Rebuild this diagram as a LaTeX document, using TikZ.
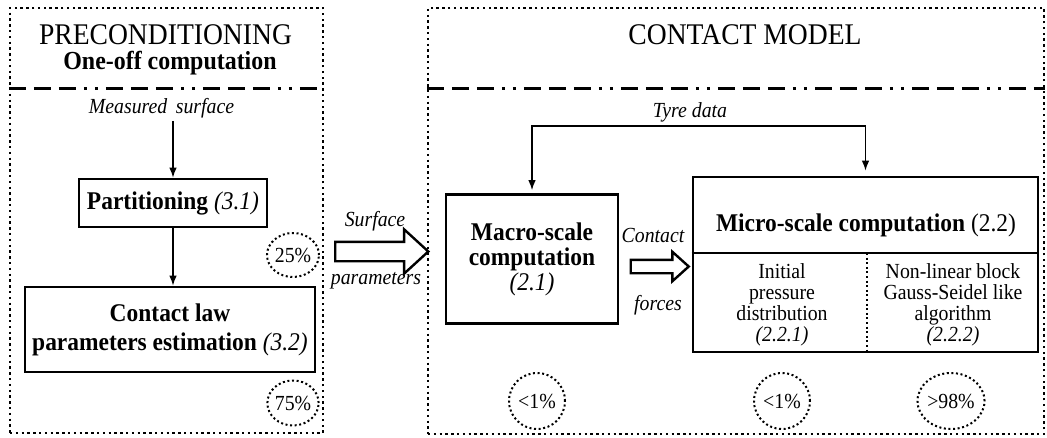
\documentclass[tikz,border=0pt]{standalone}
\usepackage{fontspec}
\setmainfont{Liberation Serif}[FakeStretch=0.92]
\usepackage{tikz}
\usetikzlibrary{shapes,arrows,positioning}
\usetikzlibrary{shapes.arrows,arrows.meta}

\tikzset{
  >={Latex[length=10pt,width=7.5pt]},
  frame/.style={shape=rectangle, draw=black, line width=2.4pt, dash pattern=on 2.4pt off 3.4pt},
  sepline/.style={line width=3pt, dash pattern=on 17pt off 8pt on 17pt off 8pt on 17pt off 8pt on 3pt off 8pt on 3pt off 8pt},
  stage/.style={shape=rectangle, draw=black, line width=2.6pt, align=center, font=\fontsize{25.5}{29}\selectfont\bfseries},
  share/.style={shape=ellipse, draw=black, line width=2pt, dash pattern=on 2pt off 2.6pt, inner sep=0pt, font=\fontsize{21.5}{21.5}\selectfont},
  tag/.style={anchor=base, font=\fontsize{21.5}{23}\selectfont\itshape},
  cell/.style={align=center, inner sep=0pt, font=\fontsize{21.5}{21}\selectfont},
  flow/.style={->, line width=1.4pt},
  fatarrow/.style={shape=single arrow, draw=black, line width=2.4pt, inner xsep=0pt, single arrow head indent=0pt}
}
\newcommand{\secref}[1]{{\normalfont\itshape #1}}

\begin{document}
\begin{tikzpicture}[x=1pt,y=-1pt]
\useasboundingbox (0,0) rectangle (1047,437);

% Preconditioning (one-off)
\node [frame, minimum width=313pt, minimum height=425pt] at (166.5,220.5) (pre_frame) {};
\coordinate (sep_y) at (0,88);
\draw [sepline] (pre_frame.west |- sep_y) -- (pre_frame.east |- sep_y);
\node [anchor=base, inner sep=0pt, font=\fontsize{30}{32}\selectfont] at (165.5,44) (pre_title) {PRECONDITIONING};
\node [anchor=base, inner sep=0pt, font=\fontsize{26}{28}\selectfont\bfseries] at (170,69) (pre_sub) {One-off computation};

\node [tag, inner sep=3pt] at (161.5,113) (meas) {Measured\, surface};
\node [stage, minimum width=188pt, minimum height=48pt] at (173,203) (part) {Partitioning \secref{(3.1)}};
\node [stage, minimum width=290pt, minimum height=85pt] at (170,329.5) (law) {Contact law\\parameters estimation \secref{(3.2)}};

\draw [flow] (meas.south -| part.north) -- (part.north);
\draw [flow] (part.south) -- (part.south |- law.north);

\node [share, minimum width=52pt, minimum height=44pt] at (293,255) (p_part) {25\%};
\node [share, minimum width=50pt, minimum height=45pt] at (293,403) (p_law) {75\%};

% Surface parameters handed over
\node [fatarrow, inner ysep=8.5pt, single arrow head extend=12.5pt, single arrow tip angle=85, minimum height=93pt] at (376.5,251.5) (surf_arrow) {};
\node [tag] at (375,226) (surf_top) {Surface};
\node [tag] at (376,284) (surf_bot) {parameters};

% Contact model
\node [frame, minimum width=616pt, minimum height=426pt] at (736,221) (model_frame) {};
\draw [sepline] (model_frame.west |- sep_y) -- (model_frame.east |- sep_y);
\node [anchor=base, font=\fontsize{30}{32}\selectfont] at (745,44) (model_title) {CONTACT MODEL};

\node [stage, minimum width=172pt, minimum height=129pt, font=\fontsize{25.5}{25}\selectfont\bfseries] at (532,259) (macro) {Macro-scale\\computation\\\secref{(2.1)}};
\node [stage, minimum width=345pt, minimum height=175pt] at (865.5,264.5) (micro) {};
\node [anchor=base, font=\fontsize{25.5}{28}\selectfont] at (866,231) (micro_title) {\textbf{Micro-scale computation} (2.2)};

\coordinate (cell_split) at (0,253);
\coordinate (div_top) at (867,253);
\draw [line width=2.6pt] (micro.west |- cell_split) -- (micro.east |- cell_split);
\draw [line width=2pt, dash pattern=on 2pt off 2.6pt] (div_top) -- (div_top |- micro.south);

\node [cell] at (782,305) (init) {Initial\\pressure\\distribution\\\secref{(2.2.1)}};
\node [cell] at (953,305) (gauss) {Non-linear block\\Gauss-Seidel like\\algorithm\\\secref{(2.2.2)}};

% tyre data feeds both scales
\coordinate (tyre_bend) at (697,126);
\draw [flow, <->, shorten <=3pt, shorten >=5pt] (macro.north) |- (tyre_bend) -| (micro.north);
\node [tag] at (690,117) (tyre) {Tyre data};

% contact forces from macro to micro
\node [fatarrow, inner ysep=5.5pt, single arrow head extend=8pt, single arrow tip angle=84, minimum height=58pt] at (656,266.5) (force_arrow) {};
\node [tag] at (653,242) (force_top) {Contact};
\node [tag] at (658,310) (force_bot) {forces};

\node [share, minimum width=56pt, minimum height=56pt] at (537,401) (p_macro) {<1\%};
\node [share, minimum width=56pt, minimum height=56pt] at (782,401) (p_init) {<1\%};
\node [share, minimum width=55pt, minimum height=56pt] at (951,401) (p_gauss) {>98\%};

\end{tikzpicture}
\end{document}
